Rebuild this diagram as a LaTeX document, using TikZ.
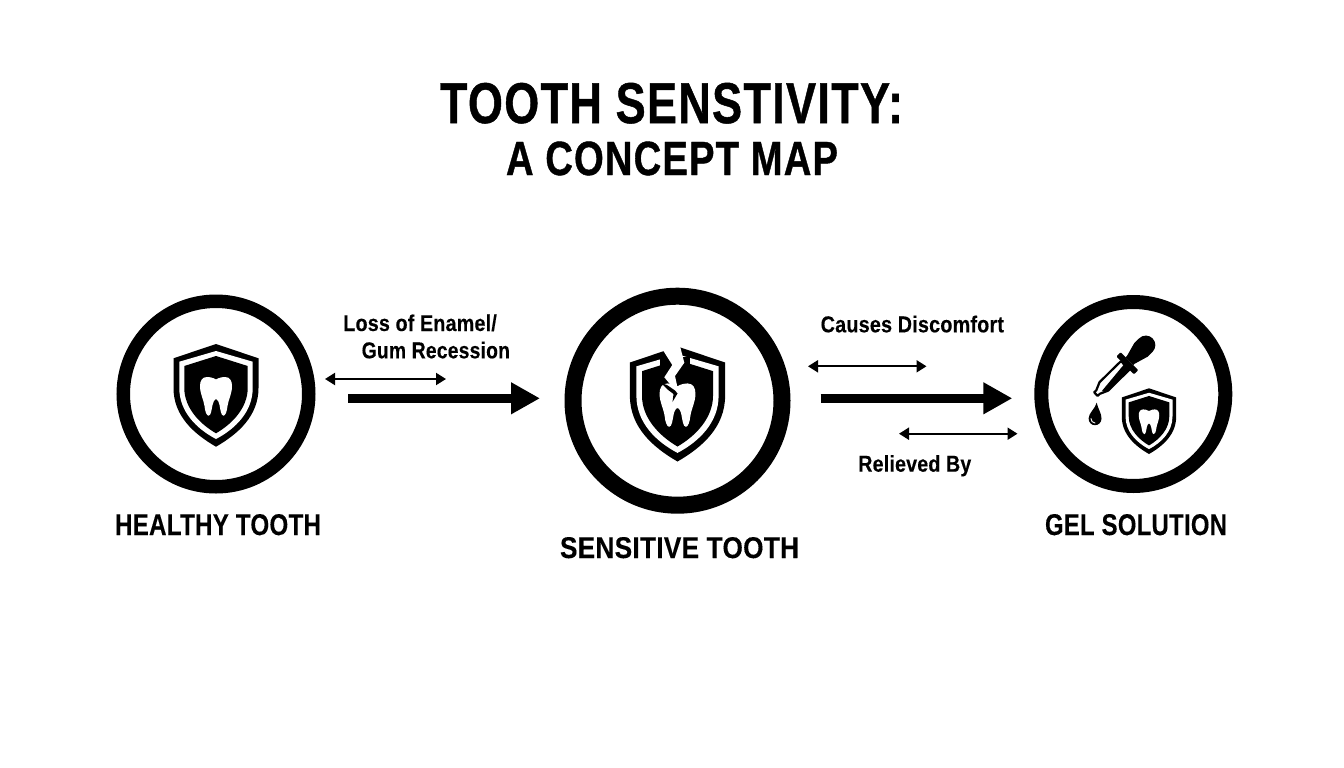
\documentclass[tikz,border=0pt]{standalone}
\usepackage{fontspec}
\usepackage{graphicx}
\setmainfont{Liberation Sans}
\newfontfamily\heavy[FakeBold=0.9,LetterSpace=3]{Liberation Sans Bold}
\newfontfamily\semi[FakeBold=0.25,LetterSpace=1]{Liberation Sans Bold}
\usetikzlibrary{arrows.meta}
\newcommand{\fitw}[2]{\resizebox{#1pt}{\height}{#2}}
\tikzset{
  ring/.style={circle,draw=black,fill=white,inner sep=0pt,outer sep=0pt},
  txt/.style={anchor=base west,inner sep=0pt,outer sep=0pt,text=black},
  bigarrow/.style={line width=9.5pt,draw=black,-{Triangle[length=29pt,width=30pt]}},
  thinarrow/.style={line width=2pt,draw=black,{Triangle[length=10pt,width=12pt]}-{Triangle[length=10pt,width=12pt]}},
  shieldbase/.pic={
    \fill[black] (0,0) -- (42.5,14.3) -- (42.5,44) .. controls (42.5,72) and (22,90) .. (0,102.7) .. controls (-22,90) and (-42.5,72) .. (-42.5,44) -- (-42.5,14.3) -- cycle;
    \fill[white] (0,7) -- (36.7,17.7) -- (36.7,44) .. controls (36.7,68) and (19,85) .. (0,95) .. controls (-19,85) and (-36.7,68) .. (-36.7,44) -- (-36.7,17.7) -- cycle;
    \fill[black] (0,12) -- (31.7,22) -- (31.7,44) .. controls (31.7,64) and (16,80) .. (0,89.3) .. controls (-16,80) and (-31.7,64) .. (-31.7,44) -- (-31.7,22) -- cycle;
  },
  toothicon/.pic={
    \fill[white] (0,35.5) .. controls (3,33.5) and (7,33) .. (9,33) .. controls (14,33) and (16,37) .. (16,42) .. controls (16,50) and (12.5,55) .. (11.5,62) .. controls (11,67) and (9.5,71.7) .. (7.5,71.7) .. controls (5,71.7) and (4.5,66) .. (3.5,61) .. controls (3,58) and (1.5,55) .. (0,55) .. controls (-1.5,55) and (-3,58) .. (-3.5,61) .. controls (-4.5,66) and (-5,71.7) .. (-7.5,71.7) .. controls (-9.5,71.7) and (-11,67) .. (-11.5,62) .. controls (-12.5,55) and (-16,50) .. (-16,42) .. controls (-16,37) and (-14,33) .. (-9,33) .. controls (-7,33) and (-3,33.5) .. (0,35.5) -- cycle;
  }
}
\begin{document}
\begin{tikzpicture}[x=1pt,y=-1pt]
\useasboundingbox (0,0) rectangle (1344,768);
\fill[white] (0,0) rectangle (1344,768);

% title
\node[txt] (title) at (440,123) {\fitw{463}{\fontsize{57.5}{60}\heavy TOOTH SENSTIVITY:}};
\node[txt] (subtitle) at (506,175) {\fitw{332}{\fontsize{48}{50}\heavy A CONCEPT MAP}};

% rings
\node[ring,line width=13.5pt,minimum size=185.5pt] (healthy) at (216,394) {};
\node[ring,line width=17pt,minimum size=209pt] (sensitive) at (677.5,400.7) {};
\node[ring,line width=14pt,minimum size=184pt] (gel) at (1133.3,394) {};

% healthy icon
\pic at (216,344) {shieldbase};
\pic at (216,344) {toothicon};

% sensitive icon
\pic[scale=1.12] at (677.5,346.5) {shieldbase};
\pic[scale=1.12] at (677.5,346.5) {toothicon};
\fill[black] (660,357) rectangle (690,369);
\fill[white] (663.3,350.7) -- (672.3,365) -- (664.3,377.3) -- (674.5,389.5) -- (678.5,392) -- (675,376) -- (684.3,362.7) -- (680,346) -- (677.5,340) -- (660,340) -- cycle;
\fill[black] (661,383) -- (667,385) -- (675,390.5) -- (677.5,393.5) -- (672.5,402) -- (673.5,394) -- (667.5,389.5) -- cycle;

% gel icon
\pic[scale=0.64] at (1149,388.3) {shieldbase};
\pic[scale=0.64] at (1149,388.3) {toothicon};
\begin{scope}[shift={(1127.3,363.3)},rotate=44.5]
  \fill[black,rounded corners=1pt] (-3,-12.5) rectangle (3,12.5);
  \fill[black] (3,-5.5) -- (5,-5.5) -- (19,-9.5) -- (26,-9.5) arc[start angle=-90,end angle=90,radius=9.5] -- (19,9.5) -- (5,5.5) -- (3,5.5) -- cycle;
  \draw[black,line width=2.2pt,fill=white,line join=round] (-3,-6) -- (-33,-6) -- (-41,-2.5) -- (-44,-2.5) -- (-44,2.5) -- (-41,2.5) -- (-33,6) -- (-3,6) -- cycle;
  \fill[black] (-3,-1.5) -- (-3,6) -- (-33,6) -- (-38,2) -- cycle;
\end{scope}
\fill[black] (1096.7,402.7) .. controls (1098,409) and (1101.5,413) .. (1101.5,418.5) .. controls (1101.5,422.5) and (1098.5,425.2) .. (1095,425.2) .. controls (1091.5,425.2) and (1088.6,422.5) .. (1088.6,418.5) .. controls (1088.6,413) and (1095,409) .. (1096.7,402.7) -- cycle;
\draw[white,line width=0.9pt,line cap=round] (1091,418.5) .. controls (1091,421) and (1092.5,422.8) .. (1095,423);

% connectors
\coordinate (a1) at (348.3,398.3); \coordinate (a2) at (540,398.3);
\coordinate (b1) at (820.7,398.3); \coordinate (b2) at (1012.3,398.3);
\coordinate (c1) at (325,379); \coordinate (c2) at (446,379);
\coordinate (d1) at (808,366.3); \coordinate (d2) at (926.5,366.3);
\coordinate (e1) at (899,433.7); \coordinate (e2) at (1017.5,433.7);
\draw[bigarrow] (a1) -- (a2);
\draw[bigarrow] (b1) -- (b2);
\draw[thinarrow] (c1) -- (c2);
\draw[thinarrow] (d1) -- (d2);
\draw[thinarrow] (e1) -- (e2);

% edge labels
\node[txt] (loss) at (343.3,331) {\fitw{153.5}{\fontsize{22.8}{24}\semi Loss of Enamel/}};
\node[txt] (gum) at (361.7,358.3) {\fitw{148.3}{\fontsize{23}{24}\semi Gum Recession}};
\node[txt] (causes) at (820.7,332.3) {\fitw{183.3}{\fontsize{23}{24}\semi Causes Discomfort}};
\node[txt] (relieved) at (858.3,471.7) {\fitw{113}{\fontsize{23}{24}\semi Relieved By}};

% node labels
\node[txt] (l1) at (115,535) {\fitw{206}{\fontsize{30}{30}\semi HEALTHY TOOTH}};
\node[txt] (l2) at (560,558) {\fitw{239}{\fontsize{30}{30}\semi SENSITIVE TOOTH}};
\node[txt] (l3) at (1045,535) {\fitw{182}{\fontsize{30}{30}\semi GEL SOLUTION}};
\end{tikzpicture}
\end{document}
